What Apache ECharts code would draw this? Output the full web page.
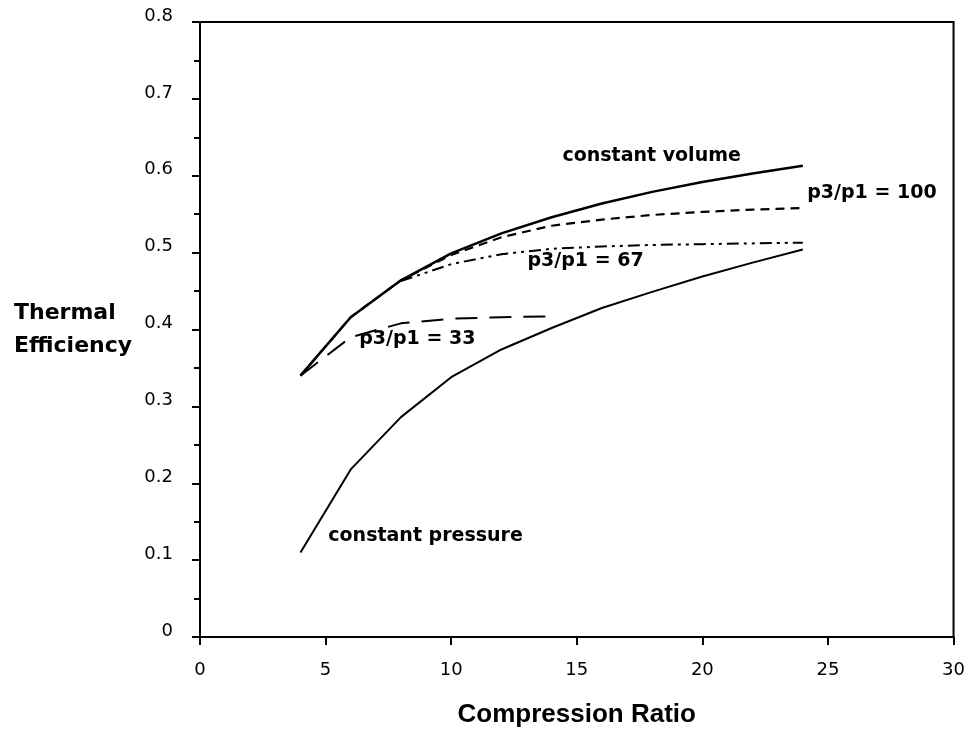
<!DOCTYPE html>
<html>
<head>
<meta charset="utf-8">
<script src="https://cdn.jsdelivr.net/npm/echarts@6/dist/echarts.min.js"></script>
<style>
	html, body { margin: 0; padding: 0; background: #fff; }
	#chart { width: 968px; height: 733px; }
</style>
</head>
<body>
<div id="chart"></div>
<script>
	// compression ratio values used by all curves
	var ratios = [4, 6, 8, 10, 12, 14, 16, 18, 20, 22, 24];
	var ratios33 = [4, 6, 8, 10, 12, 14];

	// thermal efficiency
	var constVolume = [0.340, 0.416, 0.464, 0.499, 0.525, 0.546, 0.564, 0.579, 0.592, 0.603, 0.613];
	var constPressure = [0.110, 0.218, 0.286, 0.338, 0.374, 0.402, 0.428, 0.449, 0.469, 0.487, 0.504];
	var p100 = [0.340, 0.416, 0.464, 0.497, 0.520, 0.535, 0.543, 0.549, 0.553, 0.556, 0.558];
	var p67 = [null, null, 0.463, 0.485, 0.498, 0.505, 0.508, 0.510, 0.511, 0.512, 0.513];
	var p33 = [0.340, 0.390, 0.408, 0.414, 0.416, 0.417];

	// curve labels, in data units
	var labelTexts = ['constant volume', 'p3/p1 = 100', 'p3/p1 = 67', 'p3/p1 = 33', 'constant pressure'];
	var labelX = [17.98, 26.75, 15.35, 8.65, 8.98];
	var labelY = [0.625, 0.577, 0.489, 0.388, 0.131];

	function pairs(xs, ys){
		var out = [];
		for(var i = 0; i < xs.length; i++){
			if(ys[i] != null)
				out.push([xs[i], ys[i]]);
		}
		return out;
	}

	function lineSeries(name, data, width, dash){
		return {
			name: name,
			type: 'line',
			data: data,
			symbol: 'none',
			smooth: false,
			silent: true,
			lineStyle: { color: '#000', width: width, type: dash }
		};
	}

	var labelData = [];
	for(var i = 0; i < labelTexts.length; i++)
		labelData.push({ value: [labelX[i], labelY[i]], name: labelTexts[i] });

	var chart = echarts.init(document.getElementById('chart'));
	chart.setOption({
		animation: false,
		grid: {
			left: 200,
			right: 13,
			top: 22,
			bottom: 95,
			show: true,
			borderColor: '#000',
			borderWidth: 2
		},
		xAxis: {
			type: 'value',
			min: 0,
			max: 30,
			interval: 5,
			name: 'Compression Ratio',
			nameLocation: 'middle',
			nameGap: 65,
			nameTextStyle: { fontFamily: 'Liberation Sans', fontWeight: 'bold', fontSize: 26, color: '#000' },
			axisLine: { lineStyle: { color: '#000', width: 2 } },
			axisTick: { show: true, length: 8, lineStyle: { color: '#000', width: 2 } },
			axisLabel: { fontFamily: 'DejaVu Sans', fontSize: 18, color: '#000', margin: 24 },
			splitLine: { show: false }
		},
		yAxis: {
			type: 'value',
			min: 0,
			max: 0.8,
			interval: 0.1,
			name: 'Thermal\nEfficiency',
			nameLocation: 'middle',
			nameRotate: 0,
			nameGap: 186,
			nameTextStyle: {
				fontFamily: 'DejaVu Sans', fontWeight: 'bold', fontSize: 22, color: '#000',
				align: 'left', lineHeight: 33, padding: [0, 0, 10, 0]
			},
			axisLine: { lineStyle: { color: '#000', width: 2 } },
			axisTick: { show: true, length: 8, lineStyle: { color: '#000', width: 2 } },
			minorTick: { show: true, splitNumber: 2, length: 6, lineStyle: { color: '#000', width: 2 } },
			axisLabel: {
				fontFamily: 'DejaVu Sans', fontSize: 18, color: '#000', margin: 27,
				verticalAlign: 'bottom', lineHeight: 12,
				formatter: function(v){ return v === 0 ? '0' : v.toFixed(1); }
			},
			splitLine: { show: false }
		},
		series: [
			lineSeries('constant volume', pairs(ratios, constVolume), 2.5, 'solid'),
			lineSeries('constant pressure', pairs(ratios, constPressure), 2, 'solid'),
			lineSeries('p3/p1 = 100', pairs(ratios, p100), 2.2, [9, 6]),
			lineSeries('p3/p1 = 67', pairs(ratios, p67), 2, [12, 5, 3, 5, 3, 5]),
			lineSeries('p3/p1 = 33', pairs(ratios33, p33), 2, [22, 12]),
			{
				type: 'scatter',
				data: labelData,
				symbolSize: 0,
				silent: true,
				itemStyle: { opacity: 1, color: '#000' },
				label: {
					show: true,
					position: 'inside',
					formatter: '{b}',
					fontFamily: 'DejaVu Sans',
					fontWeight: 'bold',
					fontSize: 19,
					color: '#000',
					opacity: 1,
					textBorderWidth: 0,
					textBorderColor: 'transparent'
				}
			}
		]
	});
</script>
</body>
</html>
